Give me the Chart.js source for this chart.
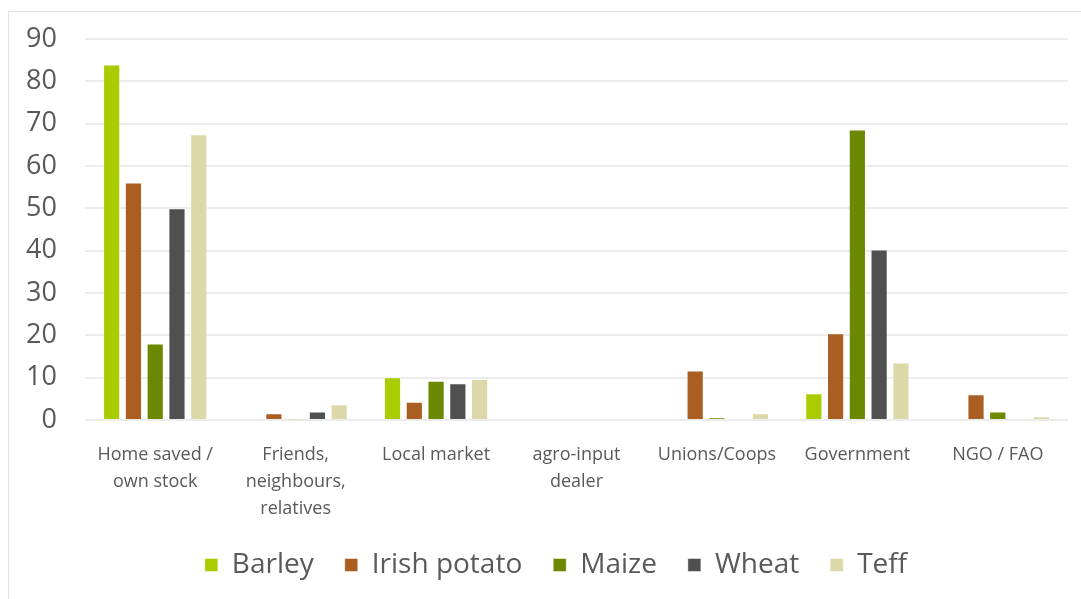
<!DOCTYPE html>
<html>
<head>
<meta charset="utf-8">
<script src="https://cdn.jsdelivr.net/npm/chart.js@4"></script>
<style>
  html, body { margin: 0; padding: 0; background: #ffffff; }
  #wrap { position: relative; width: 1081px; height: 599px; overflow: hidden; }
  #frame { position: absolute; left: 8px; top: 11px; width: 1200px; height: 700px; border: 1px solid #e3e3e3; pointer-events: none; }
</style>
</head>
<body>
<div id="wrap">
  <div id="frame"></div>
  <canvas id="seedChart" width="1081" height="599"></canvas>
</div>
<script>
// Seed source by crop (%)
const categories = [
    ['Home saved /', 'own stock'],
    ['Friends,', 'neighbours,', 'relatives'],
    ['Local market'],
    ['agro-input', 'dealer'],
    ['Unions/Coops'],
    ['Government'],
    ['NGO / FAO']
];
const barley      = [84, 0, 10.1, 0, 0, 6.3, 0];
const irishPotato = [56.1, 1.6, 4.3, 0, 11.7, 20.5, 6.1];
const maize       = [18.1, 0.1, 9.3, 0, 0.6, 68.6, 2.0];
const wheat       = [50, 2.0, 8.7, 0, 0.2, 40.3, 0.2];
const teff        = [67.5, 3.7, 9.7, 0, 1.6, 13.6, 0.9];
const yTicks = [0, 10, 20, 30, 40, 50, 60, 70, 80, 90];

const textColor = '#595959';

// nudge the legend a bit to the right, like the original
const legendShift = {
    id: 'legendShift',
    afterLayout(chart) {
        chart.legend.left += 22;
        chart.legend.right += 22;
    }
};

const ctx = document.getElementById('seedChart').getContext('2d');
const seedChart = new Chart(ctx, {
    type: 'bar',
    data: {
        labels: categories,
        datasets: [
            { label: 'Barley', data: barley, backgroundColor: '#a9cc00' },
            { label: 'Irish potato', data: irishPotato, backgroundColor: '#ab5e21' },
            { label: 'Maize', data: maize, backgroundColor: '#6b8800' },
            { label: 'Wheat', data: wheat, backgroundColor: '#505050' },
            { label: 'Teff', data: teff, backgroundColor: '#dcd8a9' }
        ].map(d => Object.assign(d, {
            borderColor: 'rgba(255,255,255,0.45)',
            borderWidth: 1,
            categoryPercentage: 0.775,
            barPercentage: 0.79
        }))
    },
    plugins: [legendShift],
    options: {
        responsive: false,
        animation: false,
        layout: { padding: { left: 0, right: 13, top: 39, bottom: 10 } },
        scales: {
            x: {
                grid: { display: false },
                border: { display: false },
                ticks: {
                    color: textColor,
                    font: { family: 'Open Sans', size: 18, lineHeight: 1.5 },
                    padding: 13,
                    maxRotation: 0,
                    autoSkip: false
                },
                afterFit: s => { s.height = 100; }
            },
            y: {
                min: 0,
                max: 90,
                afterBuildTicks: s => { s.ticks = yTicks.map(v => ({ value: v })); },
                grid: { color: '#ececec', lineWidth: 2, drawTicks: false },
                border: { display: false },
                ticks: {
                    color: textColor,
                    // small lineHeight keeps the "90" label from pushing the plot down
                    font: { family: 'Open Sans', size: 27, lineHeight: 0.8 },
                    padding: 28
                },
                afterFit: s => { s.width = 85; }
            }
        },
        plugins: {
            legend: {
                position: 'bottom',
                labels: {
                    color: textColor,
                    font: { family: 'Open Sans', size: 28 },
                    boxWidth: 13,
                    boxHeight: 13,
                    padding: 31
                }
            },
            tooltip: { enabled: false }
        }
    }
});
</script>
</body>
</html>
